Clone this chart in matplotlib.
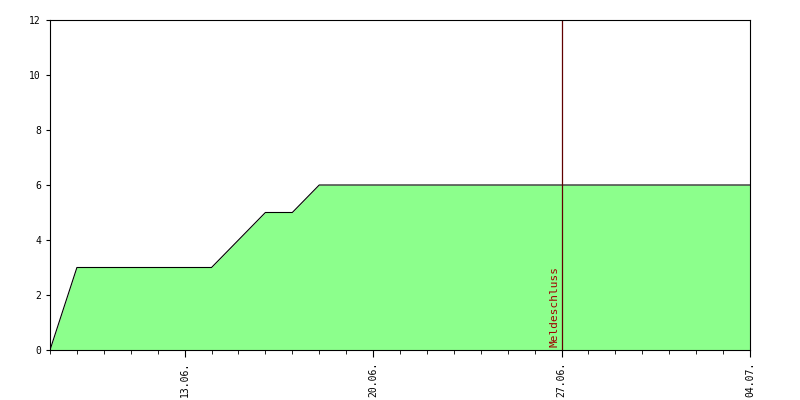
import matplotlib
matplotlib.use("Agg")
import matplotlib.pyplot as plt
import matplotlib.dates as mdates
import numpy as np
import datetime as dt

dates = ["2024-06-08", "2024-06-09", "2024-06-14", "2024-06-16", "2024-06-17", "2024-06-18", "2024-07-04"]
values = [0, 3, 3, 5, 5, 6, 6]
xtick_dates = ["2024-06-13", "2024-06-20", "2024-06-27", "2024-07-04"]
xtick_labels = ["13.06.", "20.06.", "27.06.", "04.07."]
deadline = "2024-06-27"
deadline_label = "Meldeschluss"

x = [dt.datetime.fromisoformat(d) for d in dates]
plt.rcParams['font.family'] = ['DejaVu Sans Mono']
fig = plt.figure(figsize=(8, 4), dpi=100)
ax = fig.add_axes([50/800, 50/400, 700/800, 330/400])
ax.fill_between(x, values, color="#8cff8c", linewidth=0)
ax.plot(x, values, color="black", linewidth=0.8)
dl = dt.datetime.fromisoformat(deadline)
ax.axvline(dl, color="#600000", linewidth=0.9)
ax.text(dl - dt.timedelta(hours=2), 0.1, deadline_label, rotation=90, color="#a00000",
        fontsize=8, ha="right", va="bottom")
ax.set_xlim(x[0], x[-1])
ax.set_ylim(0, 12)
ax.set_yticks(np.arange(0, 13, 2))
ax.tick_params(axis="y", labelsize=7, direction="out", length=3)
ax.set_xticks([dt.datetime.fromisoformat(d) for d in xtick_dates])
ax.set_xticklabels(xtick_labels, rotation=90, fontsize=7)
ax.xaxis.set_minor_locator(mdates.DayLocator())
ax.tick_params(axis="x", which="major", direction="out", length=5)
ax.tick_params(axis="x", which="minor", direction="out", length=3)
for s in ax.spines.values():
    s.set_linewidth(0.8)
fig.savefig("out.png", dpi=100)
